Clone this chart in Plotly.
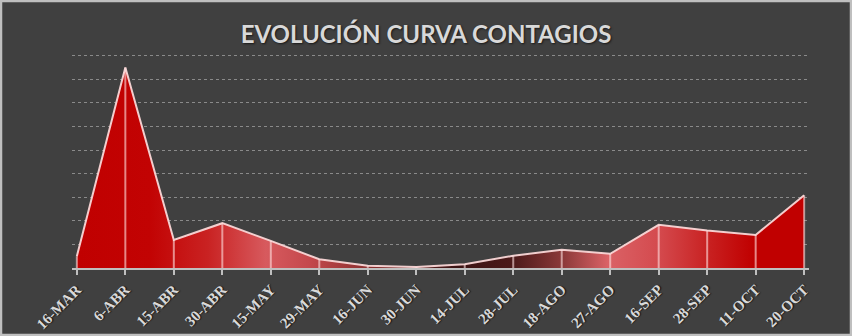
import plotly.graph_objects as go

# Fechas de corte y nivel de contagios (escala en miles)
fechas = ["16-MAR", "6-ABR", "15-ABR", "30-ABR", "15-MAY", "29-MAY", "16-JUN", "30-JUN",
          "14-JUL", "28-JUL", "18-AGO", "27-AGO", "16-SEP", "28-SEP", "11-OCT", "20-OCT"]
contagios = [0.50, 8.50, 1.19, 1.90, 1.15, 0.37, 0.10, 0.04,
             0.16, 0.52, 0.77, 0.60, 1.83, 1.59, 1.40, 3.08]

x = list(range(len(fechas)))

W, H = 852, 336
L, R, T, B = 72, 43, 51, 68
PW, PH = W - L - R, H - T - B

fig = go.Figure()

# Área con degradado rojo
fig.add_trace(go.Scatter(
    x=x, y=contagios, mode="lines",
    line=dict(color="rgba(250,215,215,0.95)", width=2),
    fill="tozeroy",
    fillgradient=dict(
        type="horizontal", start=0, stop=len(fechas) - 1,
        colorscale=[
            [0.00, "#c00000"],
            [0.10, "#c20303"],
            [0.18, "#c92222"],
            [0.26, "#d75a5e"],
            [0.32, "#c4484c"],
            [0.40, "#8c3030"],
            [0.52, "#3c1414"],
            [0.60, "#4c1a1a"],
            [0.67, "#8e3a3a"],
            [0.73, "#da6266"],
            [0.80, "#d44a4e"],
            [0.87, "#c82020"],
            [0.93, "#c00000"],
            [1.00, "#c00000"],
        ],
    ),
    hoverinfo="skip", showlegend=False,
))

# Líneas verticales desde la base hasta cada valor
vx, vy = [], []
for xi, v in zip(x, contagios):
    vx += [xi, xi, None]
    vy += [0, v, None]
fig.add_trace(go.Scatter(
    x=vx, y=vy, mode="lines",
    line=dict(color="rgba(255,225,225,0.6)", width=2),
    hoverinfo="skip", showlegend=False,
))

fig.update_layout(
    width=W, height=H,
    margin=dict(l=L, r=R, t=T, b=B, pad=0, autoexpand=False),
    paper_bgcolor="#404040",
    plot_bgcolor="#404040",
    title=dict(
        text="<b>EVOLUCIÓN CURVA CONTAGIOS</b>",
        x=0.5, xref="container", xanchor="center",
        y=1 - 35 / H, yref="container", yanchor="middle",
        font=dict(family="Lato", size=24, color="#d9d9d9",
                  shadow="1px 1px 2px #1a1a1a"),
    ),
    xaxis=dict(
        range=[-0.1, len(fechas) - 0.9],
        tickmode="array", tickvals=x, ticktext=["<b>%s</b>" % f for f in fechas],
        tickangle=-45, automargin=False,
        tickfont=dict(family="Liberation Serif", size=15, color="#d9d9d9",
                      shadow="1px 1px 1px #1a1a1a"),
        showline=True, linecolor="#bfbfbf", linewidth=2,
        ticks="outside", ticklen=5, tickcolor="#bfbfbf", tickwidth=2,
        showgrid=False, zeroline=False, fixedrange=True,
    ),
    yaxis=dict(
        range=[0, 9.2], automargin=False,
        tickmode="linear", tick0=0, dtick=1,
        showticklabels=False,
        showgrid=True, gridcolor="#8a8a8a", griddash="dot", gridwidth=1,
        zeroline=False, showline=False, fixedrange=True,
    ),
    shapes=[dict(
        type="rect", xref="paper", yref="paper", layer="above",
        x0=-(L - 1) / PW, x1=1 + (R - 1) / PW,
        y0=-(B - 1) / PH, y1=1 + (T - 1) / PH,
        line=dict(color="#bfbfbf", width=2.5),
    )],
)

fig.write_html("out.html")
